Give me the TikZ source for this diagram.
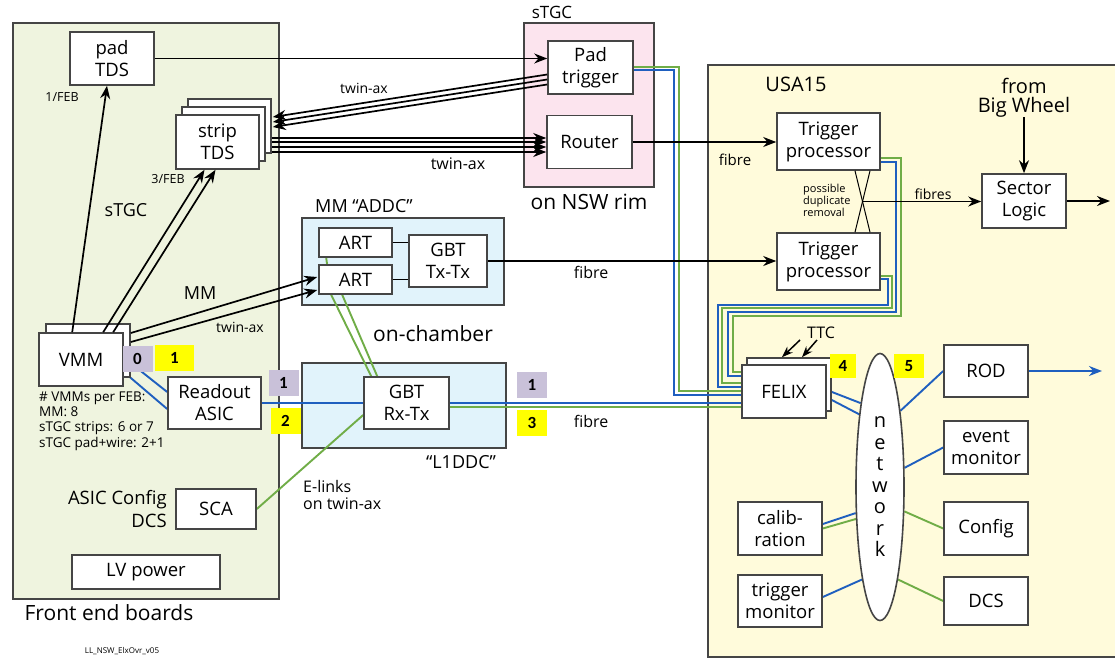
\documentclass[tikz,border=0pt]{standalone}
\usepackage{fontspec}
\setmainfont{Open Sans}
\newfontfamily\tagfont{Carlito}
\usetikzlibrary{arrows.meta,calc,shapes.geometric}
\definecolor{febgreen}{HTML}{EFF4DF}
\definecolor{usayellow}{HTML}{FFFBDB}
\definecolor{rimpink}{HTML}{FCE4EE}
\definecolor{chamberblue}{HTML}{E1F3FB}
\definecolor{tagyellow}{HTML}{FFFF00}
\definecolor{taggray}{HTML}{C9C1D9}
\definecolor{wireblue}{HTML}{1F5FBF}
\definecolor{wiregreen}{HTML}{70AD47}
\definecolor{edgegray}{HTML}{454545}
\newcommand{\setfs}[2]{\fontsize{#1}{#2}\selectfont}
\pgfdeclarelayer{bg}
\pgfdeclarelayer{wires}
\pgfsetlayers{bg,wires,main}
\begin{document}
\begin{tikzpicture}[x=1pt,y=-1pt,
        box/.style={draw=edgegray,fill=white,line width=1.6pt,inner sep=0pt,align=center,font=\setfs{18.5}{22}},
        dims/.style 2 args={minimum width=#1pt,minimum height=#2pt},
        area/.style={draw=edgegray,line width=1.6pt},
        tag/.style={inner sep=0pt,minimum width=30pt,minimum height=26pt,font=\tagfont\bfseries\setfs{17}{18}},
        arr/.style={line width=1.7pt,-{Stealth[length=13pt,width=10pt]}},
        bluew/.style={draw=wireblue,line width=1.9pt},
        greenw/.style={draw=wiregreen,line width=1.9pt},
        lbl/.style={inner sep=0pt,align=center}
    ]
    \useasboundingbox (0,0) rectangle (1115,658);
    \begin{pgfonlayer}{bg}
        \draw[area,fill=febgreen] (13,23) rectangle (279,599);
        \draw[area,fill=rimpink] (524,23) rectangle (654,187);
        \draw[area,fill=chamberblue] (302,218) rectangle (504,305);
        \draw[area,fill=chamberblue] (302,363) rectangle (506,448);
        \draw[area,fill=usayellow] (708,65) rectangle (1130,657);
    \end{pgfonlayer}

    \node[box,dims={84}{53}] (padtds) at (112,58.5) {pad\\TDS};
    \node[box,dims={83}{54}] (stripc) at (229.5,126) {};
    \node[box,dims={83}{54}] (stripb) at (223.5,134) {};
    \node[box,dims={83}{54}] (strip) at (217.5,142) {strip\\TDS};
    \node[box,dims={84}{53}] (vmmb) at (88,350.5) {};
    \node[box,dims={84}{53}] (vmm) at (81,359.5) {VMM};
    \node[box,dims={93}{52}] (readout) at (214.5,403) {Readout\\ASIC};
    \node[box,dims={80}{40}] (sca) at (216,509) {SCA};
    \node[box,dims={148}{34}] (lvpower) at (146,572) {LV power};
    \node[box,dims={85}{53}] (padtrig) at (590.5,67.5) {Pad\\trigger};
    \node[box,dims={85}{53}] (router) at (589.5,142) {Router};
    \node[box,dims={73}{29}] (artA) at (355.5,242.5) {ART};
    \node[box,dims={73}{29}] (artB) at (355.5,279.5) {ART};
    \node[box,dims={78}{52}] (gbttx) at (448,261) {GBT\\Tx-Tx};
    \node[box,dims={85}{52}] (gbtrx) at (406.5,403) {GBT\\Rx-Tx};
    \node[box,dims={103}{57}] (trigA) at (828.5,141.5) {Trigger\\processor};
    \node[box,dims={103}{57}] (trigB) at (828.5,261.5) {Trigger\\processor};
    \node[box,dims={84}{54}] (sector) at (1024,201) {Sector\\Logic};
    \node[box,dims={84}{53}] (felixb) at (789,384.5) {};
    \node[box,dims={84}{53}] (felix) at (784,391.5) {FELIX};
    \node[box,dims={84}{52}] (rod) at (986,371) {ROD};
    \node[box,dims={84}{53}] (evmon) at (986,447.5) {event\\monitor};
    \node[box,dims={84}{53}] (config) at (986,528.5) {Config};
    \node[box,dims={84}{48}] (dcs) at (986,601) {DCS};
    \node[box,dims={84}{53}] (calib) at (780,528.5) {calib-\\ration};
    \node[box,dims={84}{52}] (trigmon) at (780,601) {trigger\\monitor};
    \node[draw=edgegray,fill=white,ellipse,line width=1.6pt,inner sep=0pt,dims={48}{267},align=center,font=\setfs{20}{21.5}] (network) at (880,487) {n\\e\\t\\w\\o\\r\\k};

    \node[tag,fill=taggray] (t0) at (137.5,358.5) {0};
    \node[tag,fill=tagyellow,minimum width=39pt] (t1) at (174.5,357.5) {1};
    \node[tag,fill=taggray] (t1b) at (283.5,383) {1};
    \node[tag,fill=tagyellow] (t2) at (285.5,421) {2};
    \node[tag,fill=taggray] (t1c) at (532,385) {1};
    \node[tag,fill=tagyellow] (t3) at (532,423) {3};
    \node[tag,fill=tagyellow,minimum width=26pt,minimum height=24pt] (t4) at (843,366) {4};
    \node[tag,fill=tagyellow,minimum height=24pt] (t5) at (909,366) {5};

    \node[lbl,font=\setfs{21}{24}] (feblbl) at (109,613) {Front end boards};
    \node[lbl,font=\setfs{8}{9}] (version) at (122,651) {LL\_NSW\_ElxOvr\_v05};
    \node[lbl,font=\setfs{12.5}{14}] (perfebA) at (62,97) {1/FEB};
    \node[lbl,font=\setfs{12.5}{14}] (perfebB) at (168,179) {3/FEB};
    \node[lbl,font=\setfs{18}{20}] (stgclbl) at (126,210) {sTGC};
    \node[lbl,font=\setfs{18}{20}] (mmlbl) at (200,293) {MM};
    \node[lbl,font=\setfs{14}{16}] (twinA) at (240,327) {twin-ax};
    \node[lbl,align=left,anchor=west,font=\setfs{13.5}{15.3}] (vmmcount) at (39,421) {\# VMMs per FEB:\\MM: 8\\sTGC strips: 6 or 7\\sTGC pad+wire: 2+1};
    \node[lbl,align=right,anchor=east,font=\setfs{18.5}{23}] (asiccfg) at (167,509) {ASIC Config\\DCS};
    \node[lbl,font=\setfs{17}{19}] (rimtop) at (552,12) {sTGC};
    \node[lbl,font=\setfs{21}{24}] (rimlbl) at (589,202) {on NSW rim};
    \node[lbl,font=\setfs{14}{16}] (twinB) at (364,88) {twin-ax};
    \node[lbl,font=\setfs{16}{18}] (twinC) at (458,164) {twin-ax};
    \node[lbl,font=\setfs{18}{20}] (addclbl) at (364,206) {MM “ADDC”};
    \node[lbl,font=\setfs{21}{24}] (chamberlbl) at (433,334) {on-chamber};
    \node[lbl,font=\setfs{18}{20}] (l1ddclbl) at (461,462) {“L1DDC”};
    \node[lbl,align=left,anchor=west,font=\setfs{16}{17}] (elinks) at (303,494.5) {E-links\\on twin-ax};
    \node[lbl,font=\setfs{16}{18}] (fibreA) at (591,272) {fibre};
    \node[lbl,font=\setfs{16}{18}] (fibreB) at (591,421) {fibre};
    \node[lbl,font=\setfs{15}{17}] (fibreC) at (735,160) {fibre};
    \node[lbl,font=\setfs{14}{16}] (fibresD) at (933,194) {fibres};
    \node[lbl,font=\setfs{20}{22}] (usalbl) at (796,84) {USA15};
    \node[lbl,font=\setfs{20}{19}] (bigwheel) at (1024,97.5) {from\\Big Wheel};
    \node[lbl,align=left,anchor=west,font=\setfs{11}{12}] (duplbl) at (803,200) {possible\\duplicate\\removal};
    \node[lbl,font=\setfs{16}{18}] (ttclbl) at (821,333) {TTC};

    \coordinate (slout) at (1110,201);
    \coordinate (rodout) at (1102,371);
    \coordinate (dup) at (862.5,201.5);
    \coordinate (ttcA) at (800,340);
    \coordinate (ttcB) at (817,340);

    \draw[arr] (padtds.east) -- (padtds.east -| padtrig.west);
    \foreach \s/\e in {7/-9,12/-4,17/1}
        \draw[arr] ($(padtrig.west)+(0,\s)$) -- ($(stripc.east)+(1,\e)$);
    \draw[arr] ($(vmm.north west)+(34,0)$) -- ($(padtds.south)+(-5,0)$);
    \draw[arr] ($(vmm.north west)+(65,0)$) -- ($(strip.south)+(-13,0)$);
    \draw[arr] ($(vmm.north west)+(75,0)$) -- ($(strip.south)+(-2,0)$);
    \draw[arr] ($(vmmb.east)+(0,-17.5)$) -- ($(artB.west)+(-1,-2.5)$);
    \draw[arr] ($(vmmb.east)+(0,-8.5)$) -- ($(artB.west)+(-1,10.5)$);
    \draw[line width=1.7pt] (artA.east) -- (artA.east -| gbttx.west);
    \draw[line width=1.7pt] (artB.east) -- (artB.east -| gbttx.west);
    \draw[arr] (gbttx.east) -- (gbttx.east -| trigB.west);
    \draw[arr] (router.east) -- (router.east -| trigA.west);
    \draw[arr] (bigwheel.south) -- (sector.north);
    \draw[arr] (sector.east) -- (slout);
    \draw[line width=1pt] ($(trigA.south)+(26.5,0)$) -- ($(trigB.north)+(41.5,0)$);
    \draw[line width=1pt] ($(trigA.south)+(41.5,0)$) -- ($(trigB.north)+(26.5,0)$);
    \draw[arr] (dup) -- (dup -| sector.west);
    \draw[line width=1.5pt,-{Stealth[length=11pt,width=8pt]}] (ttcA) -- ($(felixb.north)+(-7,0)$);
    \draw[line width=1.5pt,-{Stealth[length=11pt,width=8pt]}] (ttcB) -- ($(felixb.north)+(13,0)$);

    \begin{pgfonlayer}{wires}
        \foreach \d in {-4,0,5,10}
            \draw[arr] ($(strip.east)+(0,\d)$) -- ($(strip.east -| router.west)+(0,\d)$);
        \draw[bluew] ($(vmm.east)+(10,6)$) -- ($(readout.west)+(0,-11)$);
        \draw[bluew] ($(vmm.east)+(3,15)$) -- ($(readout.west)+(0,6)$);
        \draw[greenw] ($(artA.south west)+(8,0)$) -- ($(artB.south west)+(13,0)$) -- ($(gbtrx.north west)+(8,0)$);
        \draw[greenw] ($(artB.south west)+(24,0)$) -- ($(gbtrx.north west)+(14,0)$);
        \draw[bluew] (readout.east) -- (gbtrx.west);
        \draw[bluew] (gbtrx.east) -- (gbtrx.east -| felix.west);
        \draw[greenw] ($(gbtrx.east)+(0,4)$) -- ($(gbtrx.east -| felix.west)+(0,4)$);
        \draw[greenw] (sca.east) -- ($(gbtrx.west)+(0,12)$);
        \draw[bluew] ($(padtrig.east)+(0,2.5)$) -- ++(40,0) |- ($(felix.west)+(0,3.5)$);
        \draw[greenw] ($(padtrig.east)+(0,-0.5)$) -- ++(45,0) |- ($(felix.west)+(0,-0.5)$);
        \draw[bluew] ($(trigB.east)+(0,17.5)$) -| (888,305) -| (718,387) -- (felix.west |- 0,387);
        \draw[greenw] ($(trigB.east)+(0,14.5)$) -| (892,308) -| (722,383) -- (felix.west |- 0,383);
        \draw[bluew] ($(trigA.east)+(0,20.5)$) -| (896,312) -| (728,376) -- (felix.west |- 0,376);
        \draw[greenw] ($(trigA.east)+(0,16.5)$) -| (901,316) -| (733,372) -- (felix.west |- 0,372);
        \draw[bluew] ($(felix.east)+(0,-1.5)$) -- (network.103);
        \draw[bluew] ($(felixb.east)+(0,15.5)$) -- (network.106);
        \draw[bluew] (network.75) -- (rod.west);
        \draw[bluew,-{Stealth[length=13pt,width=10pt]}] (rod.east) -- (rodout);
        \draw[bluew] (network.38) -- (evmon.west);
        \draw[greenw] (network.-45) -- (config.west);
        \draw[greenw] (network.-79) -- (dcs.west);
        \draw[bluew] ($(calib.east)+(0,-4.5)$) -- (network.227);
        \draw[greenw] (calib.east) -- (network.233);
        \draw[bluew] ($(trigmon.east)+(0,-4)$) -- (network.259);
    \end{pgfonlayer}
\end{tikzpicture}
\end{document}
